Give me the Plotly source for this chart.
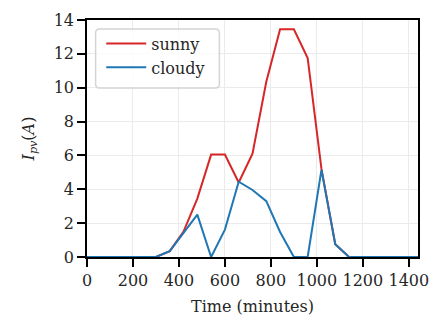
import plotly.graph_objects as go

# Time of day (minutes) and PV current (A) for two weather profiles
time_min = [0, 60, 120, 180, 240, 300, 360, 420, 480, 540, 600, 660, 720,
            780, 840, 900, 960, 1020, 1080, 1140, 1200, 1260, 1320, 1380, 1440]
sunny = [0, 0, 0, 0, 0, 0, 0.35, 1.5, 3.45, 6.05, 6.05, 4.4, 6.1,
         10.35, 13.45, 13.45, 11.75, 5.2, 0.75, 0, 0, 0, 0, 0, 0]
cloudy = [0, 0, 0, 0, 0, 0, 0.35, 1.45, 2.5, 0, 1.62, 4.45, 3.96,
          3.3, 1.48, 0, 0, 5.15, 0.75, 0, 0, 0, 0, 0, 0]

x_ticks = [0, 200, 400, 600, 800, 1000, 1200, 1400]
y_ticks = [0, 2, 4, 6, 8, 10, 12, 14]

FONT = "DejaVu Serif"
FS = 16
TXT = "#262626"

fig = go.Figure()
fig.add_trace(go.Scatter(x=time_min, y=sunny, name="sunny", mode="lines",
                         line=dict(color="#d62728", width=2)))
fig.add_trace(go.Scatter(x=time_min, y=cloudy, name="cloudy", mode="lines",
                         line=dict(color="#1f77b4", width=2)))

axis_common = dict(
    showline=True, linecolor="black", linewidth=1.6, mirror=True,
    ticks="outside", ticklen=8, tickwidth=1.6, tickcolor="black",
    showgrid=True, gridcolor="#ebebeb", gridwidth=1,
    zeroline=False,
    tickfont=dict(family=FONT, size=FS, color=TXT),
)

fig.update_xaxes(range=[0, 1440], tickvals=x_ticks,
                 title=dict(text="Time (minutes)", standoff=12,
                            font=dict(family=FONT, size=FS, color=TXT)),
                 **axis_common)
fig.update_yaxes(range=[0, 14], tickvals=y_ticks,
                 title=dict(text="<i>I</i><sub><i>pv</i></sub>(<i>A</i>)", standoff=15,
                            font=dict(family=FONT, size=FS, color=TXT)),
                 **axis_common)

# rounded frame behind the legend (paper coordinates)
fx0, fx1, fy0, fy1 = 0.026, 0.40, 0.713, 0.962
rx, ry = 0.012, 0.017
frame_path = (
    f"M {fx0 + rx},{fy1} L {fx1 - rx},{fy1} Q {fx1},{fy1} {fx1},{fy1 - ry} "
    f"L {fx1},{fy0 + ry} Q {fx1},{fy0} {fx1 - rx},{fy0} "
    f"L {fx0 + rx},{fy0} Q {fx0},{fy0} {fx0},{fy0 + ry} "
    f"L {fx0},{fy1 - ry} Q {fx0},{fy1} {fx0 + rx},{fy1} Z"
)
fig.add_shape(type="path", path=frame_path, xref="paper", yref="paper",
              fillcolor="rgba(255,255,255,0.8)",
              line=dict(color="#d4d4d4", width=1.5), layer="above")

fig.update_layout(
    width=438, height=322,
    margin=dict(l=87, r=9, t=20, b=65),
    paper_bgcolor="white", plot_bgcolor="white",
    font=dict(family=FONT, size=FS, color=TXT),
    showlegend=True,
    legend=dict(x=0.043, y=0.972, xanchor="left", yanchor="top",
                bgcolor="rgba(0,0,0,0)", borderwidth=0,
                font=dict(family=FONT, size=FS, color=TXT),
                itemwidth=40, tracegroupgap=0),
)

fig.write_html("out.html")
